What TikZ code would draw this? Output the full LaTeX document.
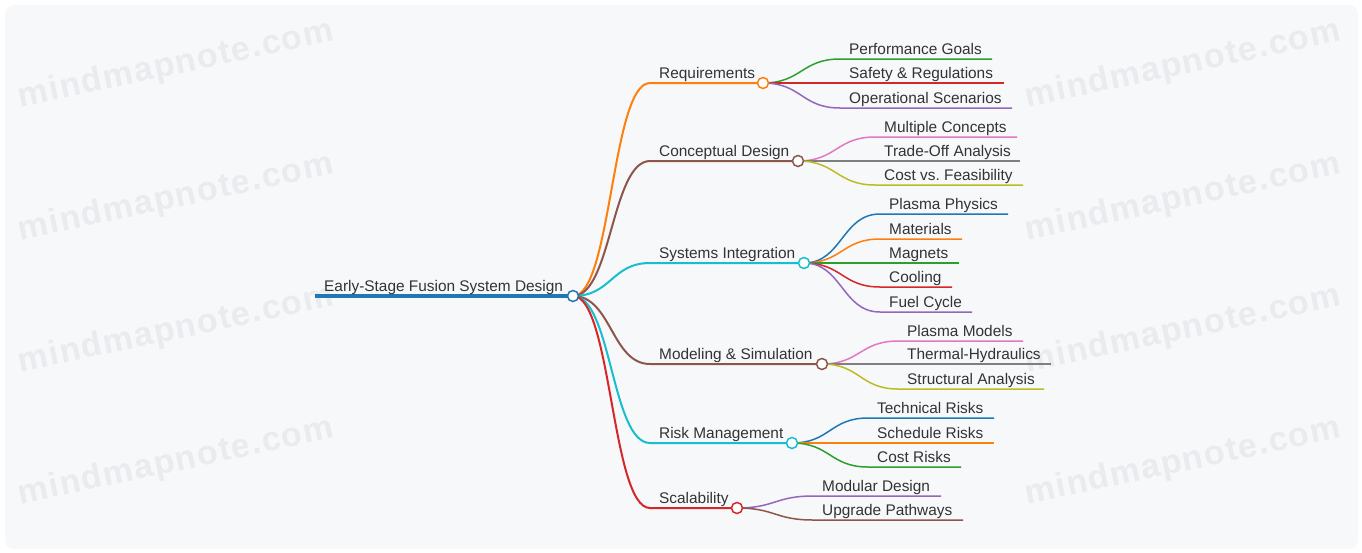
\documentclass[tikz,border=0pt]{standalone}
\usepackage{fontspec}
\setmainfont{Liberation Sans}
\newfontfamily\wmfont[LetterSpace=4]{Liberation Sans}
\usetikzlibrary{calc}
\frenchspacing
\definecolor{cblue}{RGB}{31, 119, 180}
\definecolor{corange}{RGB}{255, 127, 14}
\definecolor{cgreen}{RGB}{44, 160, 44}
\definecolor{cred}{RGB}{214, 39, 40}
\definecolor{cpurple}{RGB}{148, 103, 189}
\definecolor{cbrown}{RGB}{140, 86, 75}
\definecolor{cpink}{RGB}{227, 119, 194}
\definecolor{cgray}{RGB}{127, 127, 127}
\definecolor{colive}{RGB}{188, 189, 34}
\definecolor{ccyan}{RGB}{23, 190, 207}
\definecolor{bgpanel}{RGB}{247, 248, 250}
\definecolor{wmgray}{RGB}{234, 235, 238}
\definecolor{txtgray}{RGB}{51, 51, 51}

\begin{document}
\begin{tikzpicture}[x = 1pt, y = -1pt,
			label/.style = {anchor = base west, inner sep = 0pt, text = txtgray, font = \fontsize{15.4}{18}\selectfont},
			mark wm/.style = {anchor = base, rotate = 12, text = wmgray, font = \wmfont\bfseries\fontsize{34}{40}\selectfont},
			knob/.style = {circle, draw, fill = white, line width = 1.5pt, minimum size = 11pt, inner sep = 0pt},
			branch/.style = {to path = {let \p1 = (\tikztostart), \p2 = (\tikztotarget) in
				.. controls ({(\x1+\x2)/2}, \y1) and ({(\x1+\x2)/2}, \y2) .. (\tikztotarget)}}]
			\useasboundingbox (0,0) rectangle (1362,552);
			\fill[bgpanel, rounded corners = 9pt] (5,5) rectangle (1358,549);
			% watermarks
			\node[mark wm] (wm1) at (178,74) {mindmapnote.com};
			\node[mark wm] (wm2) at (178,207) {mindmapnote.com};
			\node[mark wm] (wm3) at (178,339) {mindmapnote.com};
			\node[mark wm] (wm4) at (178,471) {mindmapnote.com};
			\node[mark wm] (wm5) at (1185,74) {mindmapnote.com};
			\node[mark wm] (wm6) at (1185,207) {mindmapnote.com};
			\node[mark wm] (wm7) at (1185,339) {mindmapnote.com};
			\node[mark wm] (wm8) at (1185,471) {mindmapnote.com};
			% root and main topics
			\coordinate (root-s) at (315,296);
			\coordinate (root) at (573,296);
			\coordinate (req-s) at (650,83);
			\coordinate (req) at (763,83);
			\coordinate (con-s) at (650,161);
			\coordinate (con) at (798,161);
			\coordinate (sys-s) at (650,263);
			\coordinate (sys) at (804,263);
			\coordinate (mod-s) at (650,364);
			\coordinate (mod) at (822,364);
			\coordinate (risk-s) at (650,443);
			\coordinate (risk) at (792,443);
			\coordinate (scal-s) at (650,508);
			\coordinate (scal) at (737,508);
			\draw[cblue, line width = 4pt] (root-s) -- (root);
			\draw[corange, line width = 2pt] (root) to[branch] (req-s) -- (req);
			\draw[cbrown, line width = 2pt] (root) to[branch] (con-s) -- (con);
			\draw[ccyan, line width = 2pt] (root) to[branch] (sys-s) -- (sys);
			\draw[cbrown, line width = 2pt] (root) to[branch] (mod-s) -- (mod);
			\draw[ccyan, line width = 2pt] (root) to[branch] (risk-s) -- (risk);
			\draw[cred, line width = 2pt] (root) to[branch] (scal-s) -- (scal);
			% requirements
			\coordinate (goal-s) at (840,59);
			\coordinate (goal-e) at (992,59);
			\coordinate (safe-s) at (840,83);
			\coordinate (safe-e) at (1004,83);
			\coordinate (ops-s) at (840,108);
			\coordinate (ops-e) at (1012,108);
			\draw[cgreen, line width = 1.5pt] (req) to[branch] (goal-s) -- (goal-e);
			\draw[cred, line width = 1.5pt] (req) to[branch] (safe-s) -- (safe-e);
			\draw[cpurple, line width = 1.5pt] (req) to[branch] (ops-s) -- (ops-e);
			% conceptual design
			\coordinate (multi-s) at (875,137);
			\coordinate (multi-e) at (1017,137);
			\coordinate (trade-s) at (875,161);
			\coordinate (trade-e) at (1020,161);
			\coordinate (feas-s) at (875,185);
			\coordinate (feas-e) at (1023,185);
			\draw[cpink, line width = 1.5pt] (con) to[branch] (multi-s) -- (multi-e);
			\draw[cgray, line width = 1.5pt] (con) to[branch] (trade-s) -- (trade-e);
			\draw[colive, line width = 1.5pt] (con) to[branch] (feas-s) -- (feas-e);
			% systems integration
			\coordinate (phys-s) at (880,214);
			\coordinate (phys-e) at (1008,214);
			\coordinate (mat-s) at (880,239);
			\coordinate (mat-e) at (962,239);
			\coordinate (mag-s) at (880,263);
			\coordinate (mag-e) at (959,263);
			\coordinate (cool-s) at (880,287);
			\coordinate (cool-e) at (952,287);
			\coordinate (fuel-s) at (880,312);
			\coordinate (fuel-e) at (972,312);
			\draw[cblue, line width = 1.5pt] (sys) to[branch] (phys-s) -- (phys-e);
			\draw[corange, line width = 1.5pt] (sys) to[branch] (mat-s) -- (mat-e);
			\draw[cgreen, line width = 1.5pt] (sys) to[branch] (mag-s) -- (mag-e);
			\draw[cred, line width = 1.5pt] (sys) to[branch] (cool-s) -- (cool-e);
			\draw[cpurple, line width = 1.5pt] (sys) to[branch] (fuel-s) -- (fuel-e);
			% modeling and simulation
			\coordinate (pmod-s) at (898,341);
			\coordinate (pmod-e) at (1023,341);
			\coordinate (therm-s) at (898,364);
			\coordinate (therm-e) at (1051,364);
			\coordinate (struct-s) at (898,389);
			\coordinate (struct-e) at (1044,389);
			\draw[cpink, line width = 1.5pt] (mod) to[branch] (pmod-s) -- (pmod-e);
			\draw[cgray, line width = 1.5pt] (mod) to[branch] (therm-s) -- (therm-e);
			\draw[colive, line width = 1.5pt] (mod) to[branch] (struct-s) -- (struct-e);
			% risk management
			\coordinate (tech-s) at (868,418);
			\coordinate (tech-e) at (994,418);
			\coordinate (sched-s) at (868,443);
			\coordinate (sched-e) at (994,443);
			\coordinate (cost-s) at (868,467);
			\coordinate (cost-e) at (961,467);
			\draw[cblue, line width = 1.5pt] (risk) to[branch] (tech-s) -- (tech-e);
			\draw[corange, line width = 1.5pt] (risk) to[branch] (sched-s) -- (sched-e);
			\draw[cgreen, line width = 1.5pt] (risk) to[branch] (cost-s) -- (cost-e);
			% scalability
			\coordinate (modu-s) at (813,496);
			\coordinate (modu-e) at (941,496);
			\coordinate (upg-s) at (813,520);
			\coordinate (upg-e) at (963,520);
			\draw[cpurple, line width = 1.5pt] (scal) to[branch] (modu-s) -- (modu-e);
			\draw[cbrown, line width = 1.5pt] (scal) to[branch] (upg-s) -- (upg-e);
			% knobs
			\node[knob, draw = cblue] (root-k) at (root) {};
			\node[knob, draw = corange] (req-k) at (req) {};
			\node[knob, draw = cbrown] (con-k) at (con) {};
			\node[knob, draw = ccyan] (sys-k) at (sys) {};
			\node[knob, draw = cbrown] (mod-k) at (mod) {};
			\node[knob, draw = ccyan] (risk-k) at (risk) {};
			\node[knob, draw = cred] (scal-k) at (scal) {};
			% labels
			\node[label] (root-t) at ($(root-s)+(9,-5)$) {Early-Stage Fusion System Design};
			\node[label] (req-t) at ($(req-s)+(9,-5)$) {Requirements};
			\node[label] (con-t) at ($(con-s)+(9,-5)$) {Conceptual Design};
			\node[label] (sys-t) at ($(sys-s)+(9,-5)$) {Systems Integration};
			\node[label] (mod-t) at ($(mod-s)+(9,-5)$) {Modeling \& Simulation};
			\node[label] (risk-t) at ($(risk-s)+(9,-5)$) {Risk Management};
			\node[label] (scal-t) at ($(scal-s)+(9,-5)$) {Scalability};
			\node[label] (goal-t) at ($(goal-s)+(9,-5)$) {Performance Goals};
			\node[label] (safe-t) at ($(safe-s)+(9,-5)$) {Safety \& Regulations};
			\node[label] (ops-t) at ($(ops-s)+(9,-5)$) {Operational Scenarios};
			\node[label] (multi-t) at ($(multi-s)+(9,-5)$) {Multiple Concepts};
			\node[label] (trade-t) at ($(trade-s)+(9,-5)$) {Trade-Off Analysis};
			\node[label] (feas-t) at ($(feas-s)+(9,-5)$) {Cost vs. Feasibility};
			\node[label] (phys-t) at ($(phys-s)+(9,-5)$) {Plasma Physics};
			\node[label] (mat-t) at ($(mat-s)+(9,-5)$) {Materials};
			\node[label] (mag-t) at ($(mag-s)+(9,-5)$) {Magnets};
			\node[label] (cool-t) at ($(cool-s)+(9,-5)$) {Cooling};
			\node[label] (fuel-t) at ($(fuel-s)+(9,-5)$) {Fuel Cycle};
			\node[label] (pmod-t) at ($(pmod-s)+(9,-5)$) {Plasma Models};
			\node[label] (therm-t) at ($(therm-s)+(9,-5)$) {Thermal-Hydraulics};
			\node[label] (struct-t) at ($(struct-s)+(9,-5)$) {Structural Analysis};
			\node[label] (tech-t) at ($(tech-s)+(9,-5)$) {Technical Risks};
			\node[label] (sched-t) at ($(sched-s)+(9,-5)$) {Schedule Risks};
			\node[label] (cost-t) at ($(cost-s)+(9,-5)$) {Cost Risks};
			\node[label] (modu-t) at ($(modu-s)+(9,-5)$) {Modular Design};
			\node[label] (upg-t) at ($(upg-s)+(9,-5)$) {Upgrade Pathways};
\end{tikzpicture}
\end{document}
